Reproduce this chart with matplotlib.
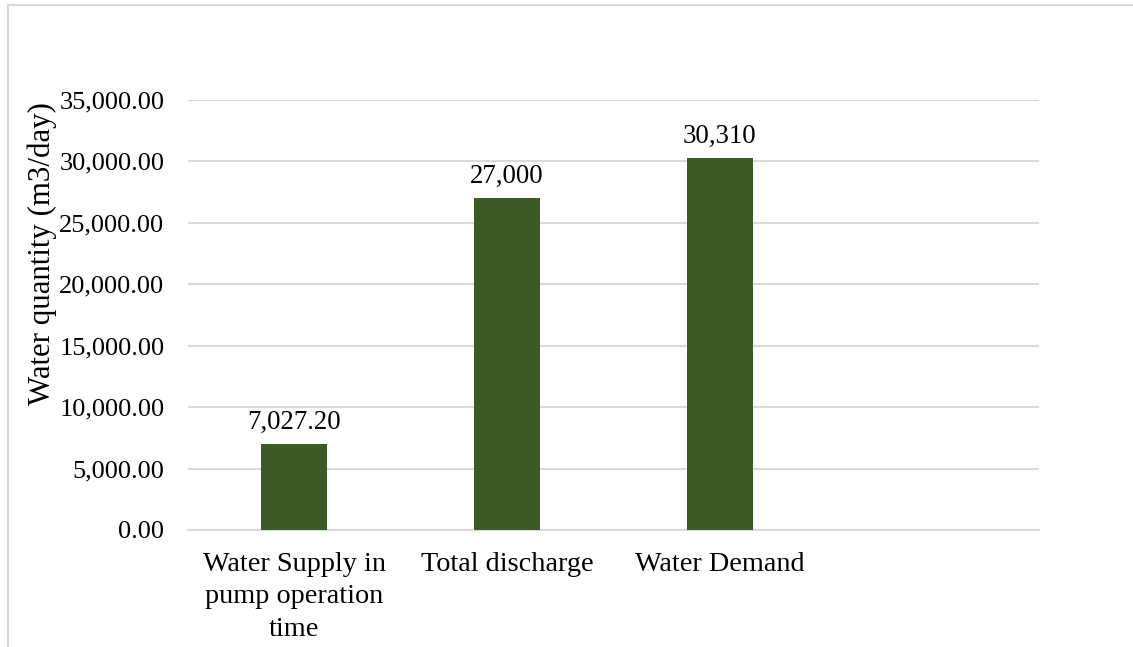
import matplotlib
matplotlib.use("Agg")
import matplotlib.pyplot as plt
from matplotlib.patches import Rectangle
from matplotlib.ticker import FuncFormatter

# Chart data
categories = ["Water Supply in\npump operation\ntime", "Total discharge", "Water Demand", ""]
values = [7027.20, 27000, 30310]
value_labels = ["7,027.20", "27,000", "30,310"]
y_ticks = [0, 5000, 10000, 15000, 20000, 25000, 30000, 35000]

plt.rcParams["font.family"] = ["Liberation Serif", "DejaVu Serif"]

W, H = 1133, 647
fig = plt.figure(figsize=(W / 100, H / 100), dpi=100)
fig.patch.set_facecolor("white")

# Light frame around the chart area (extends past the right and bottom edges)
fig.add_artist(Rectangle((8 / W, -0.05), 1.2, (H - 5) / H + 0.05,
                         transform=fig.transFigure, fill=False,
                         edgecolor="#D9D9D9", linewidth=1.5))

ax = fig.add_axes([188 / W, (H - 530) / H, (1039 - 188) / W, 430 / H])

bar_color = "#3B5A25"
xpos = list(range(len(values)))
bars = ax.bar(xpos, values, width=0.31, color=bar_color, zorder=3)

for x, v, lab in zip(xpos, values, value_labels):
    ax.annotate(lab, (x, v), xytext=(0, 6.5), textcoords="offset points",
                ha="center", va="bottom", fontsize=19.3, color="#000000")

ax.set_xlim(-0.5, len(categories) - 0.5)
ax.set_ylim(0, 35000)
ax.set_yticks(y_ticks)
ax.yaxis.set_major_formatter(FuncFormatter(lambda v, p: f"{v:,.2f}"))
ax.set_xticks(range(len(categories)))
ax.set_xticklabels(categories, linespacing=1.4)

ax.tick_params(axis="both", length=0, colors="#000000")
ax.tick_params(axis="y", pad=17, labelsize=19)
ax.tick_params(axis="x", pad=15.5, labelsize=20.3)

ax.grid(axis="y", color="#D9D9D9", linewidth=1.5, zorder=0)
for s in ["top", "right", "left"]:
    ax.spines[s].set_visible(False)
ax.spines["bottom"].set_color("#D9D9D9")
ax.spines["bottom"].set_linewidth(1.5)

ax.set_ylabel("Water quantity (m3/day)", fontsize=22.2)
ax.yaxis.set_label_coords(-0.154, 0.642)

fig.savefig("out.png", dpi=100, facecolor="white")
